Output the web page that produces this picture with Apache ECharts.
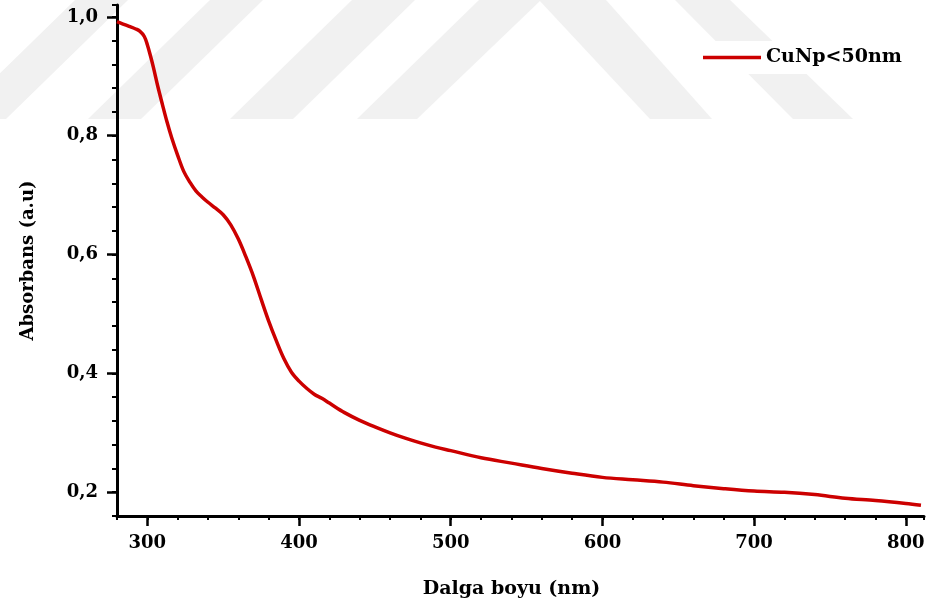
<!DOCTYPE html>
<html>
<head>
<meta charset="utf-8">
<title>Absorbans - CuNp</title>
<style>
    html, body { margin: 0; padding: 0; background: #fff; }
    #chart { width: 932px; height: 608px; }
</style>
<script src="https://cdn.jsdelivr.net/npm/echarts@6/dist/echarts.min.js"></script>
</head>
<body>
<div id="chart"></div>
<script>
    // values
    const wavelength = [280, 284, 288, 292, 295, 298, 300, 302, 304, 307, 310, 313, 316, 320, 324, 328,
        332, 336, 340, 345, 350, 355, 360, 365, 370, 375, 380, 385, 390, 395, 400, 405, 410, 415, 420,
        430, 440, 450, 460, 470, 480, 490, 500, 520, 540, 560, 580, 600, 620, 640, 660, 680, 700, 720,
        740, 760, 780, 800, 810];
    const absorbance = [0.992, 0.988, 0.984, 0.980, 0.976, 0.967, 0.953, 0.935, 0.915, 0.882, 0.852,
        0.823, 0.797, 0.767, 0.740, 0.722, 0.707, 0.697, 0.688, 0.678, 0.667, 0.650, 0.626, 0.596,
        0.563, 0.525, 0.488, 0.455, 0.425, 0.402, 0.387, 0.375, 0.365, 0.358, 0.350, 0.334, 0.321,
        0.310, 0.300, 0.291, 0.283, 0.276, 0.270, 0.258, 0.249, 0.240, 0.232, 0.225, 0.221, 0.217,
        0.211, 0.206, 0.202, 0.200, 0.196, 0.190, 0.186, 0.181, 0.178];
    const xMajorTicks = [300, 400, 500, 600, 700, 800];
    const yMajorTicks = [0.2, 0.4, 0.6, 0.8, 1.0];
    const seriesName = 'CuNp<50nm';

    const font = "'DejaVu Serif', 'Liberation Serif', serif";
    const gray = '#f1f1f1';
    // faint watermark bands in the background
    const bands = [
        [[75, 0], [128, 0], [6, 119], [-47, 119]],
        [[210, 0], [263, 0], [141, 119], [88, 119]],
        [[352, 0], [415, 0], [293, 119], [230, 119]],
        [[479, 0], [541, 0], [417, 119], [357, 119]],
        [[539, 0], [606, 0], [712, 119], [650, 119]],
        [[675, 0], [730, 0], [853, 119], [793, 119]]
    ];

    const chart = echarts.init(document.getElementById('chart'));
    const tickLine = { color: '#000', width: 2.5 };

    chart.setOption({
        animation: false,
        backgroundColor: '#fff',
        graphic: bands.map(p => ({
            type: 'polygon', silent: true, z: -100,
            shape: { points: p }, style: { fill: gray }
        })),
        grid: { left: 117, right: 8, top: 5, bottom: 92 },
        legend: {
            left: 699, top: 41,
            padding: [7, 12, 7, 4],
            backgroundColor: '#fff',
            icon: 'rect',
            itemWidth: 58, itemHeight: 3.5, itemGap: 5,
            textStyle: { fontFamily: font, fontWeight: 'bold', fontSize: 19, color: '#000' },
            data: [seriesName]
        },
        xAxis: [{
            type: 'value', min: 280, max: 812, interval: 20, position: 'bottom',
            axisLine: { onZero: false, lineStyle: { color: '#000', width: 3 } },
            axisTick: { length: 4, lineStyle: { color: '#000', width: 2 } },
            axisLabel: { show: false },
            splitLine: { show: false }
        }, {
            type: 'value', min: 280, max: 812, position: 'bottom',
            axisLine: { show: false, onZero: false },
            axisTick: { show: true, customValues: xMajorTicks, length: 10, lineStyle: tickLine },
            axisLabel: {
                customValues: xMajorTicks, margin: 18,
                fontFamily: font, fontWeight: 'bold', fontSize: 18, color: '#000'
            },
            splitLine: { show: false },
            name: 'Dalga boyu (nm)', nameLocation: 'middle', nameGap: 64,
            nameTextStyle: { fontFamily: font, fontWeight: 'bold', fontSize: 19, color: '#000', padding: [0, 18, 0, 0] }
        }],
        yAxis: [{
            type: 'value', min: 0.16, max: 1.02, interval: 0.04, position: 'left',
            axisLine: { show: true, onZero: false, lineStyle: { color: '#000', width: 3 } },
            axisTick: { show: true, length: 5, lineStyle: { color: '#000', width: 2 } },
            axisLabel: { show: false },
            splitLine: { show: false }
        }, {
            type: 'value', min: 0.16, max: 1.02, position: 'left',
            axisLine: { show: false, onZero: false },
            axisTick: { show: true, customValues: yMajorTicks, length: 10, lineStyle: tickLine },
            axisLabel: {
                customValues: yMajorTicks, margin: 19,
                formatter: v => v.toFixed(1).replace('.', ','),
                fontFamily: font, fontWeight: 'bold', fontSize: 18, color: '#000'
            },
            splitLine: { show: false },
            name: 'Absorbans (a.u)', nameLocation: 'middle', nameGap: 80,
            nameTextStyle: { fontFamily: font, fontWeight: 'bold', fontSize: 18, color: '#000' }
        }],
        series: [{
            name: seriesName,
            type: 'line',
            xAxisIndex: 0, yAxisIndex: 0,
            data: wavelength.map((w, i) => [w, absorbance[i]]),
            symbol: 'none',
            smooth: 0.35,
            lineStyle: { color: '#cc0000', width: 3.5 },
            itemStyle: { color: '#cc0000' }
        }]
    });
</script>
</body>
</html>
